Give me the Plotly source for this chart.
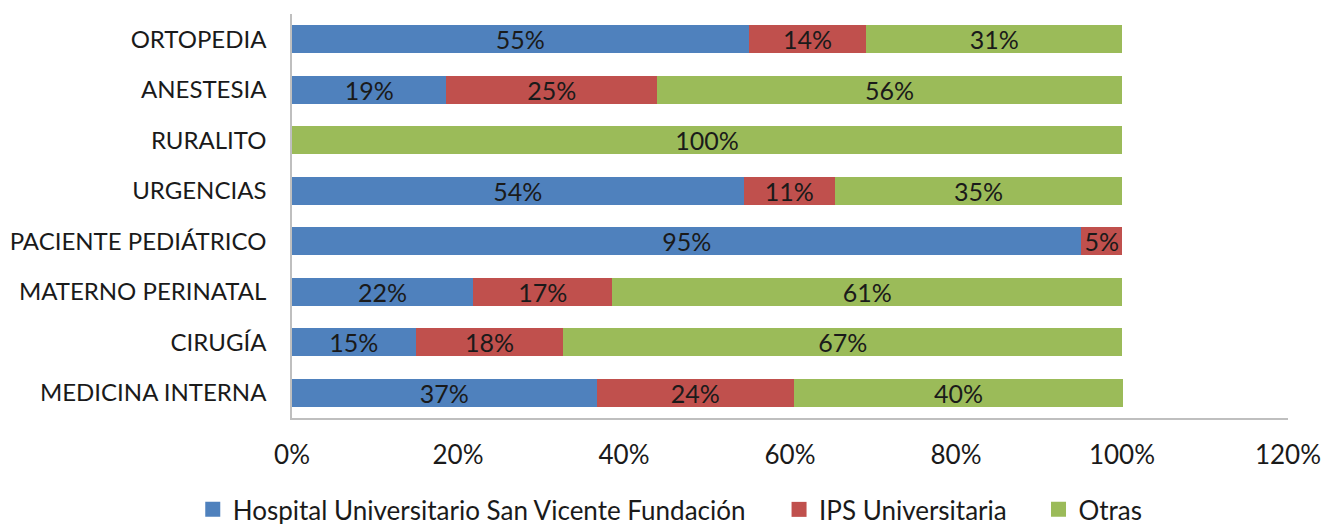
import plotly.graph_objects as go

categories = ["ORTOPEDIA", "ANESTESIA", "RURALITO", "URGENCIAS",
              "PACIENTE PEDIÁTRICO", "MATERNO PERINATAL", "CIRUGÍA", "MEDICINA INTERNA"]
hospital = [55.0, 18.6, 0.0, 54.4, 95.1, 21.8, 14.9, 36.7]
ips = [14.2, 25.4, 0.0, 11.0, 4.9, 16.8, 17.8, 23.8]
otras = [30.8, 56.0, 100.0, 34.6, 0.0, 61.4, 67.3, 39.6]
series_names = ["Hospital Universitario San Vicente Fundación", "IPS Universitaria", "Otras"]
colors = ["#4F81BD", "#C0504D", "#9BBB59"]
tick_vals = [0, 20, 40, 60, 80, 100, 120]

FONT = "Lato"
TXT = "#1a1a1a"
legend_ids = ["legend", "legend2", "legend3"]
legend_x = [0.1385, 0.578, 0.7725]

fig = go.Figure()
for i, (name, vals, col) in enumerate(zip(series_names, [hospital, ips, otras], colors)):
    texts = [f"{round(v)}%" if v > 0 else "" for v in vals]
    fig.add_trace(go.Bar(
        y=categories, x=vals, name=name, orientation="h",
        marker=dict(color=col, line=dict(width=0)),
        text=texts, textposition="inside", insidetextanchor="middle",
        textfont=dict(family=FONT, size=25, color=TXT),
        width=0.56, hoverinfo="x+name", legendgroup=name, showlegend=False,
    ))
    # legend swatch
    fig.add_trace(go.Scatter(
        x=[None], y=[None], mode="markers", name=name, legendgroup=name,
        marker=dict(symbol="square", size=15, color=col),
        legend=legend_ids[i], showlegend=True,
    ))

legend_common = dict(orientation="h", xref="container", yref="container",
                     xanchor="left", y=0.043, yanchor="middle",
                     font=dict(family=FONT, size=26, color=TXT),
                     itemwidth=30, bgcolor="rgba(0,0,0,0)")

fig.update_layout(
    barmode="stack",
    width=1334, height=524,
    margin=dict(l=284, r=54, t=6, b=114),
    paper_bgcolor="white", plot_bgcolor="white",
    font=dict(family=FONT, size=23, color=TXT),
    uniformtext=dict(minsize=25, mode="show"),
    legend=dict(x=legend_x[0], **legend_common),
    legend2=dict(x=legend_x[1], **legend_common),
    legend3=dict(x=legend_x[2], **legend_common),
    xaxis=dict(range=[0, 120], tickvals=tick_vals, ticktext=[f"{t}%" for t in tick_vals],
               showgrid=False, zeroline=False, showline=True, linecolor="#BFBFBF", linewidth=1.5,
               ticks="", automargin=False, ticklabelstandoff=13,
               tickfont=dict(family=FONT, size=26, color=TXT)),
    yaxis=dict(categoryorder="array", categoryarray=categories, autorange="reversed",
               showgrid=False, zeroline=False, showline=True, linecolor="#BFBFBF", linewidth=1.5,
               ticks="", automargin=False, ticklabelstandoff=19,
               tickfont=dict(family=FONT, size=24, color=TXT)),
)

fig.write_html("out.html")
